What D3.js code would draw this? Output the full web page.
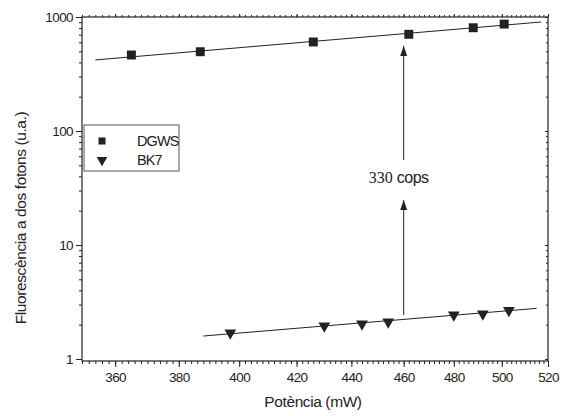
<!DOCTYPE html>
<html>
<head>
<meta charset="utf-8">
<script src="https://cdn.jsdelivr.net/npm/d3@7"></script>
<style>
body { margin: 0; background: #fff; }
text { font-family: "Liberation Sans", Arial, sans-serif; fill: #222; }
</style>
</head>
<body>
<script>
var width = 565, height = 416;
var plotLeft = 82, plotRight = 548, plotTop = 17, plotBottom = 361;
var ink = "#222";

// DGWS (squares)
var dgwsPower = [365, 387, 426, 462, 488, 501];
var dgwsSignal = [464, 496, 604, 705, 805, 867];
var dgwsFitPower = [354, 517];
var dgwsFitSignal = [420, 904];

// BK7 (down triangles)
var bk7Power = [397, 430, 444, 454, 480, 492, 503];
var bk7Signal = [1.69, 1.95, 2.03, 2.11, 2.43, 2.48, 2.67];
var bk7FitPower = [388, 515];
var bk7FitSignal = [1.59, 2.78];

// ticks
var xMajor = [360, 380, 400, 420, 440, 460, 480, 500, 520];
var xMinor = d3.range(350, 521, 2);
var yMajor = [1, 10, 100, 1000];
var yMinor = [1, 10, 100].flatMap(function(d) { return d3.range(2, 10).map(function(k) { return k * d; }); });

// annotation: 460 mW arrows
var arrowPower = 460;
var arrowLow = [2.43, 24.8];
var arrowHigh = [55.6, 557];
var arrowLabelSignal = 40;

var svg = d3.select("body").append("svg")
    .attr("width", width)
    .attr("height", height);

var x = d3.scaleLog().domain([350, 520]).range([plotLeft, plotRight]);
var y = d3.scaleLog().domain([0.96, 1000]).range([plotBottom, plotTop]);

svg.append("defs").append("marker")
    .attr("id", "head")
    .attr("viewBox", "0 0 10 10")
    .attr("refX", 10).attr("refY", 5)
    .attr("markerWidth", 10).attr("markerHeight", 10)
    .attr("markerUnits", "userSpaceOnUse")
    .attr("orient", "auto")
    .append("path")
    .attr("d", "M0,1.5 L10,5 L0,8.5 Z")
    .attr("fill", ink);

// frame
svg.append("rect")
    .attr("x", plotLeft).attr("y", plotTop)
    .attr("width", plotRight - plotLeft).attr("height", plotBottom - plotTop)
    .attr("fill", "none").attr("stroke", ink).attr("stroke-width", 1.2);

function styleAxis(g) {
    g.select(".domain").remove();
    g.selectAll("line").attr("stroke", ink).attr("stroke-width", 1);
    g.selectAll("text").attr("font-size", 13.5).attr("fill", ink)
        .attr("font-family", "Liberation Sans, Arial, sans-serif")
        .attr("letter-spacing", -0.6);
}

// bottom
svg.append("g").attr("transform", "translate(0," + plotBottom + ")")
    .call(d3.axisBottom(x).tickValues(xMinor).tickSize(3).tickFormat(""))
    .call(styleAxis);
svg.append("g").attr("transform", "translate(0," + plotBottom + ")")
    .call(d3.axisBottom(x).tickValues(xMajor).tickSize(6).tickPadding(5).tickFormat(d3.format("d")))
    .call(styleAxis);
// top
svg.append("g").attr("transform", "translate(0," + plotTop + ")")
    .call(d3.axisTop(x).tickValues(xMinor).tickSize(2).tickFormat(""))
    .call(styleAxis);
svg.append("g").attr("transform", "translate(0," + plotTop + ")")
    .call(d3.axisTop(x).tickValues(xMajor).tickSize(3).tickFormat(""))
    .call(styleAxis);
// left
svg.append("g").attr("transform", "translate(" + plotLeft + ",0)")
    .call(d3.axisLeft(y).tickValues(yMinor).tickSize(3).tickFormat(""))
    .call(styleAxis);
svg.append("g").attr("transform", "translate(" + plotLeft + ",0)")
    .call(d3.axisLeft(y).tickValues(yMajor).tickSize(6).tickPadding(3).tickFormat(d3.format("d")))
    .call(styleAxis);
// right
svg.append("g").attr("transform", "translate(" + plotRight + ",0)")
    .call(d3.axisLeft(y).tickValues(yMinor).tickSize(2).tickFormat(""))
    .call(styleAxis);
svg.append("g").attr("transform", "translate(" + plotRight + ",0)")
    .call(d3.axisLeft(y).tickValues(yMajor).tickSize(3).tickFormat(""))
    .call(styleAxis);

// fit lines
var line = d3.line().x(function(d) { return x(d[0]); }).y(function(d) { return y(d[1]); });
svg.append("path").datum(d3.zip(dgwsFitPower, dgwsFitSignal))
    .attr("d", line).attr("fill", "none").attr("stroke", ink).attr("stroke-width", 1);
svg.append("path").datum(d3.zip(bk7FitPower, bk7FitSignal))
    .attr("d", line).attr("fill", "none").attr("stroke", ink).attr("stroke-width", 1);

// markers
var sq = d3.symbol().type(d3.symbolSquare).size(80);
svg.append("g").selectAll("path").data(d3.zip(dgwsPower, dgwsSignal)).join("path")
    .attr("d", sq)
    .attr("transform", function(d) { return "translate(" + x(d[0]) + "," + y(d[1]) + ")"; })
    .attr("fill", ink);

var tri = d3.symbol().type(d3.symbolTriangle).size(60);
svg.append("g").selectAll("path").data(d3.zip(bk7Power, bk7Signal)).join("path")
    .attr("d", tri)
    .attr("transform", function(d) { return "translate(" + x(d[0]) + "," + y(d[1]) + ") rotate(180)"; })
    .attr("fill", ink);

// arrows
[arrowLow, arrowHigh].forEach(function(a) {
    svg.append("line")
        .attr("x1", x(arrowPower)).attr("y1", y(a[0]))
        .attr("x2", x(arrowPower)).attr("y2", y(a[1]))
        .attr("stroke", ink).attr("stroke-width", 1)
        .attr("marker-end", "url(#head)");
});
var lbl = svg.append("text")
    .attr("x", x(arrowPower) - 5).attr("y", y(arrowLabelSignal) + 7)
    .attr("text-anchor", "middle").attr("font-size", 16);
lbl.append("tspan").attr("font-family", "Liberation Serif, Times New Roman, serif").text("330");
lbl.append("tspan").attr("font-family", "Liberation Sans, Arial, sans-serif").attr("letter-spacing", -0.5).text(" cops");

// legend
var lg = svg.append("g").attr("transform", "translate(84,125)");
lg.append("rect").attr("width", 95).attr("height", 46)
    .attr("fill", "#fff").attr("stroke", "#555").attr("stroke-width", 1);
lg.append("path").attr("d", d3.symbol().type(d3.symbolSquare).size(50))
    .attr("transform", "translate(18,16)").attr("fill", ink);
lg.append("path").attr("d", d3.symbol().type(d3.symbolTriangle).size(50))
    .attr("transform", "translate(18,35) rotate(180)").attr("fill", ink);
lg.append("text").attr("x", 53).attr("y", 21).attr("font-size", 14.5).attr("letter-spacing", -0.9).text("DGWS");
lg.append("text").attr("x", 53).attr("y", 40).attr("font-size", 14.5).attr("letter-spacing", -0.9).text("BK7");

// axis titles
svg.append("text")
    .attr("x", 313).attr("y", 407)
    .attr("text-anchor", "middle").attr("font-size", 15.5).attr("letter-spacing", -0.4)
    .text("Potència (mW)");
svg.append("text")
    .attr("transform", "translate(26,218) rotate(-90)")
    .attr("text-anchor", "middle").attr("font-size", 15.5).attr("letter-spacing", -0.4)
    .text("Fluorescència a dos fotons (u.a.)");
</script>
</body>
</html>
